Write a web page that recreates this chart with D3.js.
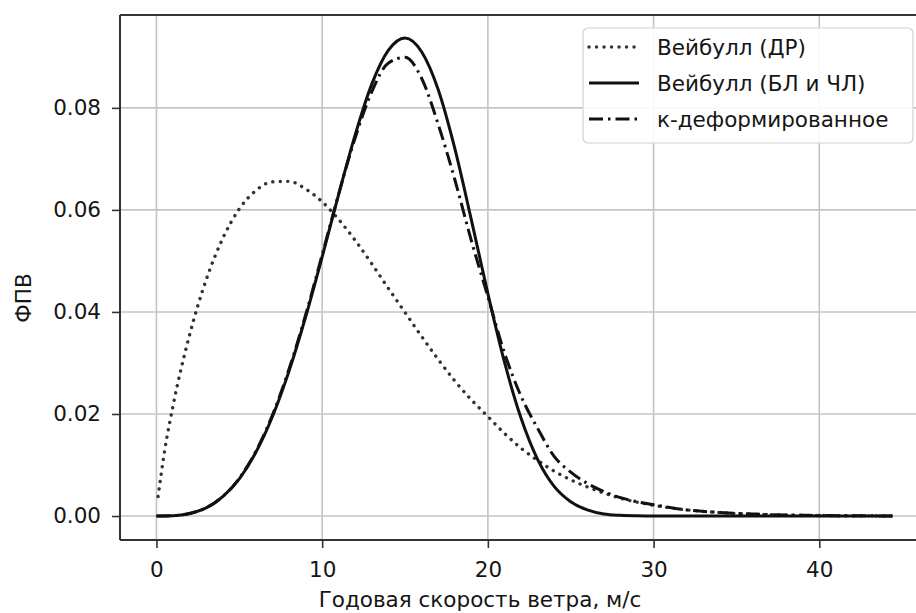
<!DOCTYPE html>
<html>
<head>
<meta charset="utf-8">
<script src="https://cdn.jsdelivr.net/npm/d3@7/dist/d3.min.js"></script>
<style>
  body { margin: 0; background: #fff; }
  text { font-family: "DejaVu Sans", sans-serif; fill: #151515; }
</style>
</head>
<body>
<div id="chart"></div>
<script>
// wind speed, m/s
var speedsDR = [0.1, 0.5, 1, 2, 3, 4, 5, 6, 7, 8, 9, 10, 11, 12, 13, 14, 15, 16, 17, 18, 19, 20,
  21, 22, 23, 24, 25, 26, 27, 28, 30, 32, 34, 36, 38, 40, 42, 44.4];
var weibullDR = [0.0038, 0.0129, 0.0216, 0.0355, 0.0463, 0.0544, 0.0602, 0.0638, 0.0655, 0.0656, 0.0641,
  0.0616, 0.0581, 0.054, 0.0494, 0.0446, 0.0399, 0.0352, 0.0307, 0.0265, 0.0228, 0.0195,
  0.0162, 0.0133, 0.0109, 0.0088, 0.0071, 0.0057, 0.0045, 0.0035, 0.0021, 0.0012, 0.00068,
  0.00037, 0.0002, 0.0001, 0.00005, 0.00002];

var speeds = [0, 1, 2, 3, 4, 5, 6, 7, 8, 9, 10, 11, 12, 13, 14, 15, 16, 17, 18, 19, 20,
  21, 22, 23, 24, 25, 26, 27, 28, 29, 30, 32, 34, 36, 38, 40, 42, 44.4];
var weibullBL = [0, 0.00006, 0.0005, 0.0016, 0.0038, 0.0073, 0.0125, 0.0195, 0.0284, 0.039, 0.0508,
  0.0631, 0.0748, 0.0847, 0.0913, 0.0937, 0.091, 0.0836, 0.0721, 0.0581, 0.0436,
  0.0302, 0.0192, 0.0111, 0.0058, 0.0028, 0.0012, 0.0004, 0.00014, 0.00004, 0, 0, 0, 0, 0, 0, 0, 0];
var kDeformed = [0, 0.00006, 0.0005, 0.0016, 0.0038, 0.0074, 0.0127, 0.0198, 0.0288, 0.0394, 0.0512,
  0.0632, 0.0742, 0.0832, 0.0888, 0.0899, 0.0858, 0.0768, 0.066, 0.054, 0.043,
  0.032, 0.0235, 0.0172, 0.0117, 0.0086, 0.0064, 0.0048, 0.0036, 0.0028, 0.0022, 0.0012, 0.0007,
  0.0004, 0.0002, 0.0001, 0.00005, 0.00002];

var xTicks = [0, 10, 20, 30, 40];
var yTicks = [0, 0.02, 0.04, 0.06, 0.08];
var legendLabels = ["Вейбулл (ДР)", "Вейбулл (БЛ и ЧЛ)", "к-деформированное"];
var xTitle = "Годовая скорость ветра, м/с";
var yTitle = "ФПВ";

var W = 916, H = 613;
var margin = {top: 15, left: 120},
    width = 807,
    height = 525;

var x = d3.scaleLinear().domain([-2.2, 46.5]).range([margin.left, margin.left + width]);
var y = d3.scaleLinear().domain([-0.0047, 0.0982]).range([margin.top + height, margin.top]);

var svg = d3.select("#chart").append("svg")
    .attr("width", W)
    .attr("height", H);

var fs = 21.5;

// grid
svg.selectAll(".gx").data(xTicks).enter().append("line")
    .attr("x1", d => x(d)).attr("x2", d => x(d))
    .attr("y1", margin.top).attr("y2", margin.top + height)
    .attr("stroke", "#c4c4c4").attr("stroke-width", 1.6);
svg.selectAll(".gy").data(yTicks).enter().append("line")
    .attr("x1", margin.left).attr("x2", margin.left + width)
    .attr("y1", d => y(d)).attr("y2", d => y(d))
    .attr("stroke", "#c4c4c4").attr("stroke-width", 1.6);

// axes
var xAxis = svg.append("g")
    .attr("transform", "translate(0," + (margin.top + height) + ")")
    .call(d3.axisBottom(x).tickValues(xTicks).tickFormat(d3.format("d")).tickSize(8).tickPadding(14));
var yAxis = svg.append("g")
    .attr("transform", "translate(" + margin.left + ",0)")
    .call(d3.axisLeft(y).tickValues(yTicks).tickFormat(d3.format(".2f")).tickSize(8).tickPadding(11));
[xAxis, yAxis].forEach(function(a){
  a.select(".domain").remove();
  a.selectAll(".tick line").attr("stroke", "#333").attr("stroke-width", 1.6);
  a.selectAll(".tick text").attr("font-size", fs).attr("font-family", "DejaVu Sans").attr("fill", "#151515");
});

// spines
svg.append("line").attr("x1", margin.left).attr("x2", margin.left)
    .attr("y1", margin.top).attr("y2", margin.top + height)
    .attr("stroke", "#333").attr("stroke-width", 2);
svg.append("line").attr("x1", margin.left).attr("x2", margin.left + width)
    .attr("y1", margin.top + height).attr("y2", margin.top + height)
    .attr("stroke", "#333").attr("stroke-width", 2);
svg.append("line").attr("x1", margin.left).attr("x2", margin.left + width)
    .attr("y1", margin.top).attr("y2", margin.top)
    .attr("stroke", "#333").attr("stroke-width", 2);

// curves
var line = d3.line()
    .x(d => x(d[0]))
    .y(d => y(d[1]))
    .curve(d3.curveMonotoneX);

var styles = [
  {dash: "0.1,7.4", cap: "round", w: 3.4},
  {dash: null, cap: "butt", w: 3},
  {dash: "14,5,2.5,5", cap: "butt", w: 3}
];
var seriesData = [
  d3.zip(speedsDR, weibullDR),
  d3.zip(speeds, weibullBL),
  d3.zip(speeds, kDeformed)
];

svg.selectAll(".curve").data(seriesData).enter().append("path")
    .attr("class", "curve")
    .attr("d", line)
    .attr("fill", "none")
    .attr("stroke", (d, i) => i == 0 ? "#333" : "#111")
    .attr("stroke-width", (d, i) => styles[i].w)
    .attr("stroke-linecap", (d, i) => styles[i].cap)
    .attr("stroke-dasharray", (d, i) => styles[i].dash);

// legend
var lg = svg.append("g");
lg.append("rect")
    .attr("x", 583).attr("y", 28)
    .attr("width", 330).attr("height", 115)
    .attr("rx", 5).attr("ry", 5)
    .attr("fill", "#fff").attr("fill-opacity", 0.9)
    .attr("stroke", "#d2d2d2").attr("stroke-width", 1.2);
var rows = lg.selectAll(".row").data(legendLabels).enter().append("g")
    .attr("transform", (d, i) => "translate(0," + (47 + i * 36) + ")");
rows.append("line")
    .attr("x1", 589).attr("x2", 639)
    .attr("stroke", (d, i) => i == 0 ? "#333" : "#111")
    .attr("stroke-width", (d, i) => styles[i].w)
    .attr("stroke-linecap", (d, i) => styles[i].cap)
    .attr("stroke-dasharray", (d, i) => styles[i].dash);
rows.append("text")
    .attr("x", 657).attr("y", 8)
    .attr("font-size", fs)
    .text(d => d);

// titles
svg.append("text")
    .attr("x", 480).attr("y", 607)
    .attr("text-anchor", "middle")
    .attr("font-size", fs)
    .text(xTitle);
svg.append("text")
    .attr("transform", "translate(31,298) rotate(-90)")
    .attr("text-anchor", "middle")
    .attr("font-size", fs)
    .text(yTitle);
</script>
</body>
</html>
